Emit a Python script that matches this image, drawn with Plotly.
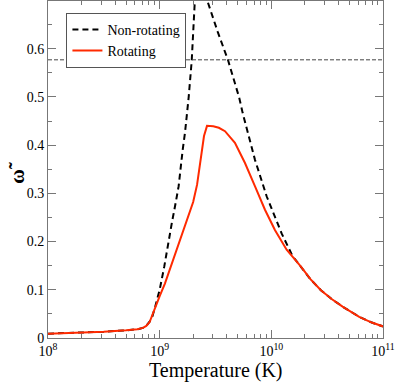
import numpy as np
import plotly.graph_objects as go

# log10(T) and omega-tilde
nonrot_logT = [8.0, 8.3, 8.5, 8.7, 8.8, 8.85, 8.88, 8.91, 8.935, 8.96, 9.0, 9.041, 9.077,
               9.11, 9.143, 9.17, 9.206, 9.227, 9.26, 9.287, 9.315, 9.34, 9.37, 9.40,
               9.426, 9.52, 9.614, 9.713, 9.743, 9.853, 9.958, 10.092, 10.19, 10.265,
               10.35, 10.444, 10.54, 10.638, 10.787, 10.9, 11.0]
nonrot_w = [0.009, 0.011, 0.013, 0.016, 0.018, 0.021, 0.025, 0.034, 0.045, 0.065, 0.1,
            0.148, 0.2, 0.24, 0.28, 0.315, 0.39, 0.426, 0.5, 0.575, 0.70, 0.76, 0.79,
            0.76, 0.70, 0.635, 0.575, 0.498, 0.467, 0.37, 0.294, 0.217, 0.17, 0.148,
            0.122, 0.099, 0.081, 0.065, 0.044, 0.032, 0.024]

rot_logT = [8.0, 8.3, 8.5, 8.7, 8.8, 8.85, 8.88, 8.91, 8.949, 9.0, 9.047, 9.1, 9.152,
            9.2, 9.256, 9.3, 9.335, 9.361, 9.397, 9.424, 9.45, 9.48, 9.53, 9.585, 9.674,
            9.764, 9.853, 9.943, 10.032, 10.137, 10.265, 10.35, 10.444, 10.54, 10.638,
            10.787, 10.9, 11.0]
rot_w = [0.009, 0.011, 0.013, 0.016, 0.018, 0.021, 0.025, 0.033, 0.058, 0.087, 0.113,
         0.148, 0.183, 0.215, 0.252, 0.282, 0.318, 0.363, 0.419, 0.44, 0.44, 0.439,
         0.436, 0.429, 0.405, 0.363, 0.315, 0.266, 0.224, 0.183, 0.148, 0.122, 0.099,
         0.081, 0.065, 0.044, 0.032, 0.024]

limit_w = 0.577
x_ticks = [1e8, 1e9, 1e10, 1e11]
x_ticktext = ["10<sup>8</sup>", "10<sup>9</sup>", "10<sup>10</sup>", "10<sup>11</sup>"]
y_ticks = [0, 0.1, 0.2, 0.3, 0.4, 0.5, 0.6]
y_ticktext = ["0", "0.1", "0.2", "0.3", "0.4", "0.5", "0.6"]

serif = "Liberation Serif"
axcol = "#777777"

fig = go.Figure()
fig.add_trace(go.Scatter(x=10 ** np.array(nonrot_logT), y=nonrot_w, mode="lines",
                         name="Non-rotating",
                         line=dict(color="black", width=2, dash="6px,4px")))
fig.add_trace(go.Scatter(x=10 ** np.array(rot_logT), y=rot_w, mode="lines",
                         name="Rotating", line=dict(color="#ff2a00", width=2)))

fig.add_hline(y=limit_w, line=dict(color="#444444", width=1, dash="4px,2px"))

minor_x = [m * 10 ** e for e in range(8, 11) for m in range(2, 10)]

fig.update_xaxes(type="log", range=[8, 11], tickvals=x_ticks, ticktext=x_ticktext,
                 ticks="inside", ticklen=8, tickcolor=axcol, showline=True,
                 linecolor=axcol, linewidth=1, mirror="allticks", showgrid=False,
                 zeroline=False, tickfont=dict(family=serif, size=14, color="black"),
                 minor=dict(tickvals=minor_x, ticks="inside", ticklen=4,
                            tickcolor=axcol, showgrid=False))
fig.update_yaxes(range=[0, 0.699], tickvals=y_ticks, ticktext=y_ticktext,
                 ticks="inside", ticklen=8, tickcolor=axcol, showline=True,
                 linecolor=axcol, linewidth=1, mirror="allticks", showgrid=False,
                 zeroline=False, tickfont=dict(family=serif, size=14, color="black"),
                 minor=dict(dtick=0.05, ticks="inside", ticklen=4, tickcolor=axcol,
                            showgrid=False))

fig.add_annotation(text="Temperature (K)", xref="paper", yref="paper", x=0.5, y=-0.095,
                   xanchor="center", yanchor="middle", showarrow=False,
                   font=dict(family=serif, size=20, color="black"))
fig.add_annotation(text="<b>ω̃</b>", xref="paper", yref="paper", x=-0.093, y=0.49,
                   xanchor="center", yanchor="middle", textangle=-90, showarrow=False,
                   font=dict(family=serif, size=20, color="black"))

fig.update_layout(
    width=396, height=382,
    margin=dict(l=48, r=13, t=1, b=44),
    paper_bgcolor="white", plot_bgcolor="white",
    font=dict(family=serif),
    showlegend=True,
    legend=dict(x=0.055, y=0.965, xanchor="left", yanchor="top",
                bgcolor="white", bordercolor="#555555", borderwidth=1,
                font=dict(family=serif, size=14, color="black"),
                tracegroupgap=0, itemwidth=30),
)

fig.write_html("out.html", config={"displayModeBar": False},
               post_script="document.body.style.margin='0';")
